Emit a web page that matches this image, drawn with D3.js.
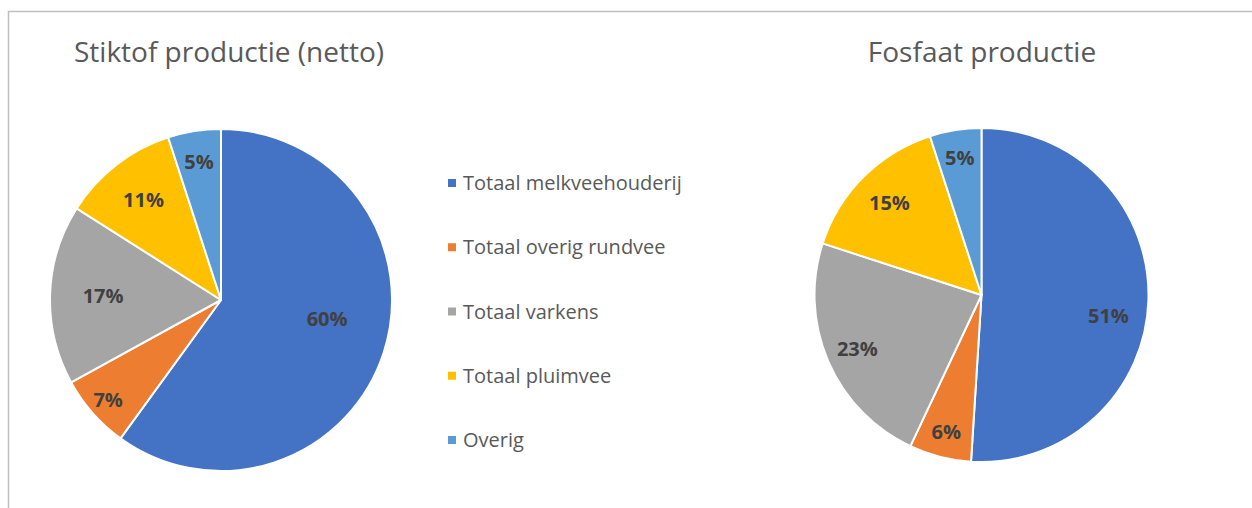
<!DOCTYPE html>
<html><head><meta charset="utf-8">
<script src="https://cdn.jsdelivr.net/npm/d3@7"></script>
<style>body{margin:0;background:#fff}svg{display:block}</style>
</head><body>
<svg id="c" width="1252" height="508"></svg>
<script>
const categories = ["Totaal melkveehouderij","Totaal overig rundvee","Totaal varkens","Totaal pluimvee","Overig"];
const stikstofValues = [60, 7, 17, 11, 5];
const fosfaatValues = [51, 6, 23, 15, 5];
const titles = ["Stiktof productie (netto)", "Fosfaat productie"];
const colors = ["#4472C4","#ED7D31","#A5A5A5","#FFC000","#5B9BD5"];

const svg = d3.select("#c");
const font = "'Open Sans', 'Noto Sans', sans-serif";

// chart border
svg.append("path").attr("d","M8.5,520 V11.5 H1260").attr("fill","none").attr("stroke","#BFBFBF").attr("stroke-width",1.5);

const color = d3.scaleOrdinal().domain(categories).range(colors);
const pie = d3.pie().sort(null).value(d => d.v);

const charts = [
  {values: stikstofValues, cx: 221, cy: 300, r: 171, title: titles[0], tx: 229,
   labelK: [0.63, 0.88, 0.69, 0.74, 0.82], angAdj: [-0.14, 0, 0, 0, 0]},
  {values: fosfaatValues, cx: 981.5, cy: 295, r: 167, title: titles[1], tx: 982,
   labelK: [0.77, 0.85, 0.81, 0.78, 0.83], angAdj: [0.13, 0, 0, 0, 0]}
];

charts.forEach(c => {
  const data = categories.map((k, i) => ({k, v: c.values[i]}));
  const arcs = pie(data);
  const g = svg.append("g").attr("transform", `translate(${c.cx},${c.cy})`);
  const arc = d3.arc().innerRadius(0).outerRadius(c.r);
  g.selectAll("path.s").data(arcs).join("path").attr("class","s")
    .attr("d", arc).attr("fill", d => color(d.data.k))
    .attr("stroke","#fff").attr("stroke-width",2).attr("stroke-linejoin","round");
  g.selectAll("text.l").data(arcs).join("text").attr("class","l")
    .attr("transform", (d, i) => {
      const a = (d.startAngle + d.endAngle) / 2 + c.angAdj[i];
      const rr = c.r * c.labelK[i];
      return `translate(${Math.sin(a) * rr},${-Math.cos(a) * rr})`;
    })
    .attr("text-anchor","middle").attr("dy","0.35em")
    .attr("font-family", font).attr("font-weight","bold").attr("font-size",20)
    .attr("fill","#404040").text(d => d.data.v + "%");
  svg.append("text").attr("x", c.tx).attr("y", 62).attr("text-anchor","middle")
    .attr("font-family", font).attr("font-size",28).attr("fill","#595959").text(c.title);
});

// legend
const ly = d3.scalePoint().domain(categories).range([183, 440]);
const lg = svg.append("g");
categories.forEach(k => {
  lg.append("rect").attr("x",448).attr("y", ly(k)-4).attr("width",8).attr("height",8).attr("fill", color(k));
  lg.append("text").attr("x",463).attr("y", ly(k)).attr("dy","0.35em")
    .attr("font-family", font).attr("font-size",20).attr("fill","#595959").text(k);
});
</script>
</body></html>
